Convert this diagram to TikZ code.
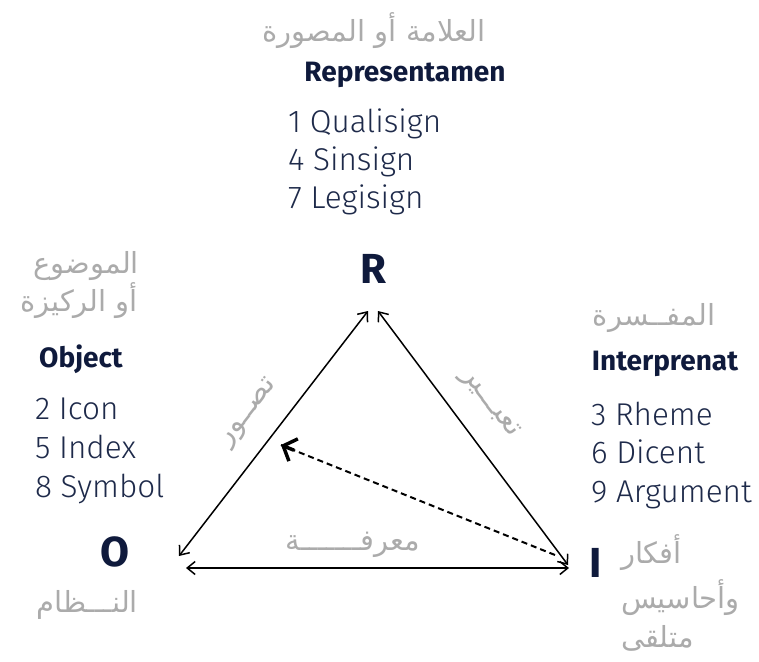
\documentclass[tikz,border=0pt]{standalone}
\usepackage{fontspec}
\setmainfont{Fira Sans}[UprightFont={* Light},BoldFont={* Bold}]
\newfontfamily\arabicfont[Script=Arabic]{DejaVu Sans}
\TeXXeTstate=1
\usetikzlibrary{arrows.meta,calc}
\definecolor{navy}{HTML}{0F1A3C}
\definecolor{listc}{HTML}{1E2A4A}
\definecolor{argray}{HTML}{ABABAB}
\begin{document}
\begin{tikzpicture}[x=1pt,y=-1pt,
  every node/.style={inner sep=0pt,outer sep=0pt},
  ar/.style={font=\arabicfont\fontsize{29}{34}\selectfont,text=argray},
  ttl/.style={font=\bfseries\fontsize{28}{32}\selectfont,text=navy,anchor=base},
  vtx/.style={font=\bfseries\fontsize{42}{46}\selectfont,text=navy,anchor=base},
  item/.style={font=\fontsize{31.5}{36}\selectfont,text=listc,anchor=base west},
  triedge/.style={line width=1.5pt,{Straight Barb[length=8pt,width=13pt]}-{Straight Barb[length=8pt,width=13pt]}},
  dashline/.style={line width=2pt,dash pattern=on 6pt off 4pt},
]
\useasboundingbox (0,0) rectangle (759,661);
% top
\node[ar] (arR) at (374,31) {\beginR العلامة أو المصورة\endR};
\node[ttl] (rep) at (405,81) {Representamen};
\node[item] (q) at (288,132) {1 Qualisign};
\node[item] (s) at (288,170) {4 Sinsign};
\node[item] (l) at (288,208) {7 Legisign};
\node[vtx] (R) at (373,283) {R};
% left
\node[ar,anchor=east] (arO1) at (139,266) {\beginR الموضوع\endR};
\node[ar,anchor=east] (arO2) at (138,301) {\beginR أو الركيزة\endR};
\node[ttl] (obj) at (81,367) {Object};
\node[item] (ic) at (35,419) {2 Icon};
\node[item] (ix) at (35,458) {5 Index};
\node[item] (sy) at (35,497) {8 Symbol};
% right
\node[ar] (arI) at (654,318) {\beginR المفــسرة\endR};
\node[ttl] (int) at (665,370) {Interprenat};
\node[item] (rh) at (591,425) {3 Rheme};
\node[item] (di) at (591,463) {6 Dicent};
\node[item] (ag) at (591,502) {9 Argument};
% bottom
\node[vtx] (O) at (115,566) {O};
\node[ar,anchor=east] (arOb) at (138,605) {\beginR النـــظام\endR};
\node[vtx] (I) at (596,577) {I};
\node[ar,anchor=west] (arI1) at (621,553) {\beginR أفكار\endR};
\node[ar,anchor=west] (arI2) at (621,598) {\beginR وأحاسيس\endR};
\node[ar,anchor=west] (arI3) at (621,638) {\beginR متلقى\endR};
% triangle tips
\coordinate (oT) at (179,556);
\coordinate (rL) at (368,311);
\coordinate (rR) at (378,311);
\coordinate (iT) at (568,565);
\coordinate (oB) at (186,568);
\coordinate (iB) at (569,568);
\draw[triedge] (oT) -- (rL);
\draw[triedge] (rR) -- (iT);
\draw[triedge] (oB) -- (iB);
% edge labels
\node[ar,rotate=52] (tas) at (249,413) {\beginR تصــور\endR};
\node[ar,rotate=-52] (tab) at (489,404) {\beginR تعبـــير\endR};
\node[ar] (mar) at (353,545) {\beginR معرفـــــــة\endR};
% dashed arrow
\coordinate (dS) at (555,555);
\coordinate (dE) at (281,445);
\draw[dashline] (dS) -- (dE);
\draw[line width=3.5pt,-{Straight Barb[length=11pt,width=24pt,line width=3.5pt]}] ($(dE)!14pt!(dS)$) -- (dE);
\end{tikzpicture}
\end{document}
